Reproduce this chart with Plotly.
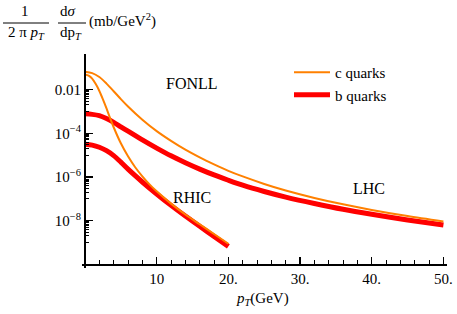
import plotly.graph_objects as go

# ---- data ----
pt_lhc = [0, 1, 2, 3, 4, 5, 6, 8, 10, 12, 14, 16, 18, 20, 22, 25, 28, 32, 36, 40, 45, 50]
c_lhc = [6.6e-2, 5.75e-2, 3.8e-2, 1.9e-2, 8.5e-3, 3.7e-3, 1.7e-3, 4.2e-4, 1.26e-4, 4.5e-5, 1.78e-5,
         7.9e-6, 3.8e-6, 1.92e-6, 1.06e-6, 4.8e-7, 2.4e-7, 1.1e-7, 5.6e-8, 3.1e-8, 1.62e-8, 9.1e-9]
b_lhc = [7.8e-4, 7.4e-4, 6.5e-4, 4.8e-4, 3.2e-4, 2.0e-4, 1.26e-4, 5.0e-5, 2.1e-5, 9.3e-6, 4.5e-6,
         2.3e-6, 1.24e-6, 7.1e-7, 4.2e-7, 2.16e-7, 1.2e-7, 6.1e-8, 3.3e-8, 1.96e-8, 1.08e-8, 6.3e-9]

pt_c_rhic = [0, 0.5, 1, 1.5, 2, 2.5, 3, 3.5, 4, 5, 6, 7, 8, 9, 10, 12, 14, 16, 18, 20]
c_rhic = [5.0e-2, 4.4e-2, 3.2e-2, 1.8e-2, 8.7e-3, 3.6e-3, 1.38e-3, 5.0e-4, 1.9e-4, 3.5e-5, 8.9e-6,
          2.8e-6, 1.07e-6, 4.6e-7, 2.2e-7, 6.0e-8, 1.9e-8, 6.8e-9, 2.45e-9, 8.7e-10]
pt_b_rhic = [0, 1, 2, 3, 4, 5, 6, 7, 8, 10, 12, 14, 16, 18, 20]
b_rhic = [3.2e-5, 2.9e-5, 2.3e-5, 1.6e-5, 9.5e-6, 4.8e-6, 2.3e-6, 1.15e-6, 5.9e-7, 1.66e-7, 5.0e-8,
          1.62e-8, 5.5e-9, 1.9e-9, 6.6e-10]

x_tickvals = [10, 20, 30, 40, 50]
x_ticktext = ["10", "20.", "30.", "40.", "50."]
y_tickvals = [1e-2, 1e-4, 1e-6, 1e-8]
y_ticktext = ["0.01", "10<sup>\u22124</sup>", "10<sup>\u22126</sup>", "10<sup>\u22128</sup>"]
y_minor = [m * 10.0 ** (k - 1) for k in (-2, -4, -6, -8) for m in (1, 2, 3, 4, 5, 6, 7, 8, 9)]

ORANGE = "#FF8000"
RED = "#FF0000"
FONT = "Liberation Serif, Times New Roman, Times, DejaVu Serif, serif"

W, H = 457, 314
L, R, T, B = 82, 10, 54, 46
PW, PH = W - L - R, H - T - B


def px(xp):
    return (xp - L) / PW


def py(yp):
    return (H - B - yp) / PH


fig = go.Figure()
fig.add_trace(go.Scatter(x=pt_lhc, y=b_lhc, mode="lines", name="b quarks", legendrank=2,
                         line=dict(color=RED, width=5, shape="spline", smoothing=0.8)))
fig.add_trace(go.Scatter(x=pt_b_rhic, y=b_rhic, mode="lines", showlegend=False,
                         line=dict(color=RED, width=5, shape="spline", smoothing=0.8)))
fig.add_trace(go.Scatter(x=pt_lhc, y=c_lhc, mode="lines", name="c quarks", legendrank=1,
                         line=dict(color=ORANGE, width=2, shape="spline", smoothing=0.8)))
fig.add_trace(go.Scatter(x=pt_c_rhic, y=c_rhic, mode="lines", showlegend=False,
                         line=dict(color=ORANGE, width=2, shape="spline", smoothing=0.8)))

fig.update_layout(
    width=W, height=H,
    margin=dict(l=L, r=R, t=T, b=B, pad=0),
    paper_bgcolor="white", plot_bgcolor="white",
    font=dict(family=FONT, size=15, color="black"),
    showlegend=True,
    legend=dict(x=px(289), y=py(56), xanchor="left", yanchor="top", itemwidth=36,
                bgcolor="rgba(0,0,0,0)", font=dict(family=FONT, size=15), tracegroupgap=0),
    xaxis=dict(range=[-0.42, 50.5], anchor="free", position=0.016,
               showline=True, linecolor="black", linewidth=2,
               showgrid=False, zeroline=False, automargin=False, ticklabeloverflow="allow",
               tickmode="array", tickvals=x_tickvals, ticktext=x_ticktext,
               ticks="inside", ticklen=7, tickwidth=1.5, tickcolor="black",
               minor=dict(dtick=2, tick0=0, ticks="inside", ticklen=4, tickwidth=1, tickcolor="black"),
               tickfont=dict(family=FONT, size=15)),
    yaxis=dict(type="log", range=[-10.17, -0.365], anchor="free", position=0.0082,
               showline=True, linecolor="black", linewidth=2,
               showgrid=False, zeroline=False, automargin=False, ticklabeloverflow="allow",
               tickmode="array", tickvals=y_tickvals, ticktext=y_ticktext,
               ticks="inside", ticklen=7, tickwidth=1.5, tickcolor="black",
               minor=dict(tickmode="array", tickvals=y_minor, ticks="inside", ticklen=3,
                          tickwidth=1, tickcolor="black"),
               tickfont=dict(family=FONT, size=15)),
)

ann = []


def add_text(text, xp, yp, size=15, xanchor="center"):
    ann.append(dict(text=text, x=px(xp), y=py(yp), xref="paper", yref="paper",
                    xanchor=xanchor, yanchor="middle", showarrow=False,
                    font=dict(family=FONT, size=size, color="black")))


add_text("1", 25, 11)
add_text("2 \u03c0 <i>p</i><sub><i>T</i></sub>", 26, 33)
add_text("d<i>\u03c3</i>", 68, 11)
add_text("dp<sub><i>T</i></sub>", 71, 33)
add_text("(mb/GeV<sup>2</sup>)", 87, 21, xanchor="left")
add_text("FONLL", 192, 83, size=16)
add_text("RHIC", 192, 197, size=16)
add_text("LHC", 369, 188, size=16)
add_text("<i>p</i><sub><i>T</i></sub>(GeV)", 262, 299, size=15)
fig.update_layout(annotations=ann)

shapes = [
    dict(type="line", xref="paper", yref="paper", x0=px(3), x1=px(49), y0=py(23), y1=py(23),
         line=dict(color="black", width=1)),
    dict(type="line", xref="paper", yref="paper", x0=px(58), x1=px(86), y0=py(23), y1=py(23),
         line=dict(color="black", width=1)),
]
fig.update_layout(shapes=shapes)

fig.write_html(
    "out.html",
    config={"displayModeBar": False, "staticPlot": True},
    post_script="document.body.style.margin='0';document.body.style.padding='0';"
                "document.body.style.overflow='hidden';",
)
